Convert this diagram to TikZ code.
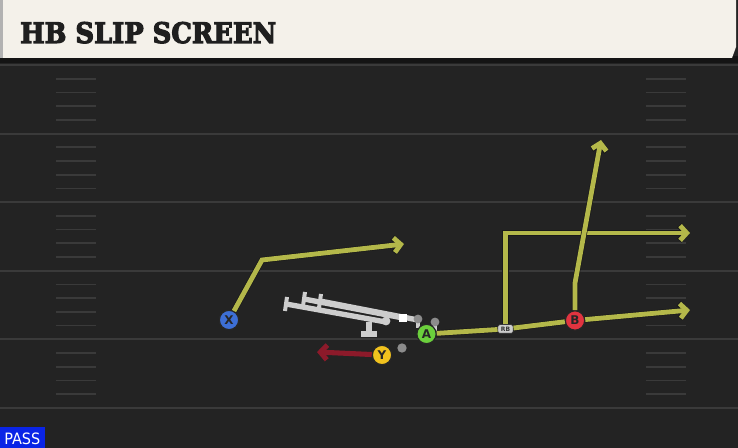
\documentclass[tikz,border=0pt]{standalone}
\usepackage{fontspec}
\usepackage{tikz}
\usetikzlibrary{arrows.meta}

\newfontfamily\titlefont{DejaVu Serif}[BoldFeatures={FakeBold=4}]
\newfontfamily\tagfont{DejaVu Sans}

\definecolor{field}{HTML}{232323}
\definecolor{yardline}{HTML}{3A3A3A}
\definecolor{banner}{HTML}{F4F1EA}
\definecolor{routecol}{HTML}{B4B84A}
\definecolor{motioncol}{HTML}{8C1A2A}
\definecolor{blockgray}{HTML}{CDCDCD}
\definecolor{xblue}{HTML}{3D6FD6}
\definecolor{agreen}{HTML}{6BCF3C}
\definecolor{bred}{HTML}{E03440}
\definecolor{yyellow}{HTML}{F1C21E}
\definecolor{passblue}{HTML}{0A24E6}

\tikzset{
  player/.style={circle,draw=black!85,line width=0.9pt,inner sep=0pt,minimum size=14.5pt,
    font=\tagfont\bfseries\fontsize{9}{9}\selectfont,text=black!85},
  route/.style={draw=routecol,line width=3.6pt,
    -{Straight Barb[length=5pt,width=11pt]},
    preaction={draw=black!90,line width=4.6pt,-{Straight Barb[length=5pt,width=11.5pt]}}},
  motion/.style={draw=motioncol,line width=3.8pt,-{Straight Barb[length=5pt,width=11pt]}},
  block/.style={draw=blockgray,line width=4pt},
  hash/.style={draw=yardline,line width=1.3pt}
}

\begin{document}
\begin{tikzpicture}[x=0.75pt,y=-0.75pt]
  \useasboundingbox (0,0) rectangle (738,448);
  \fill[field] (0,0) rectangle (738,448);

  % field
  \foreach \y in {65,133.6,202.2,270.8,339.4,408}
    \draw[yardline,line width=1.5pt] (0,\y) -- (738,\y);
  \foreach \y in {65,133.6,202.2,270.8,339.4}
    \foreach \j in {1,...,4} {
      \draw[hash] (56,{\y+13.7*\j}) -- (96,{\y+13.7*\j});
      \draw[hash] (646,{\y+13.7*\j}) -- (686,{\y+13.7*\j});
    }

  % banner
  \fill[black!92] (0,56) rectangle (738,63);
  \fill[banner] (3,0) -- (736,0) -- (736,47) -- (732,58) -- (3,58) -- cycle;
  \fill[black!30] (0,0) rectangle (3,58);
  \node[anchor=base west,inner sep=0pt,text=black!88] (title) at (20,43)
    {\resizebox{192pt}{15.75pt}{\titlefont\bfseries HB SLIP SCREEN}};

  \fill[passblue] (0,427) rectangle (45,448);
  \node[anchor=base west,inner sep=0pt,text=white] (pass) at (4,445)
    {\resizebox{27pt}{8.7pt}{\tagfont PASS}};

  % line
  \draw[block] (286,304) -- (386,322);
  \draw[block] (304,299) -- (403,318);
  \draw[block] (320,301) -- (418,320);
  \draw[block,line width=3pt] (287,297) -- (285,311);
  \draw[block,line width=3pt] (305,292) -- (303,306);
  \draw[block,line width=3pt] (321,294) -- (319,308);
  \draw[block] (369,322) -- (369,334);
  \draw[block] (361,334) -- (377,334);
  \draw[block,line width=2.5pt] (418,319) -- (418,328);
  \draw[block,line width=2.5pt] (435,322) -- (435,331);
  \fill[blockgray] (386,321) circle (3.3pt);
  \fill[black!45] (418,319) circle (3.3pt);
  \fill[black!45] (435,322) circle (3.3pt);
  \fill[white] (398.5,314) rectangle (406.5,322);
  \fill[black!45] (402,348) circle (3.5pt);

  % players
  \node[player,fill=xblue] (X) at (229,320) {X};
  \node[player,fill=agreen] (A) at (426.5,334) {A};
  \node[player,fill=bred] (B) at (575,320.5) {B};
  \node[player,fill=yyellow] (Y) at (382,355) {Y};
  \node[draw=black!85,line width=0.5pt,fill=blockgray,rounded corners=1.5pt,inner sep=0pt,
    minimum width=11.5pt,minimum height=6.5pt,font=\tagfont\bfseries\fontsize{4.5}{4.5}\selectfont,
    text=black!80] (RB) at (505.5,329) {RB};

  \coordinate (xbreak) at (262,260);
  \coordinate (xend) at (404,244);
  \coordinate (aend) at (690,310);
  \coordinate (corner) at (505.5,233);
  \coordinate (cend) at (690,233);
  \coordinate (bbreak) at (575,283);
  \coordinate (bend) at (601,140);
  \coordinate (yend) at (317,352);

  % routes
  \draw[route] (X) -- (xbreak) -- (xend);
  \draw[route] (A) -- (RB) -- (B) -- (aend);
  \draw[route] (RB) -- (corner) -- (cend);
  \draw[route] (B) -- (bbreak) -- (bend);
  \draw[motion] (Y) -- (yend);
\end{tikzpicture}
\end{document}
